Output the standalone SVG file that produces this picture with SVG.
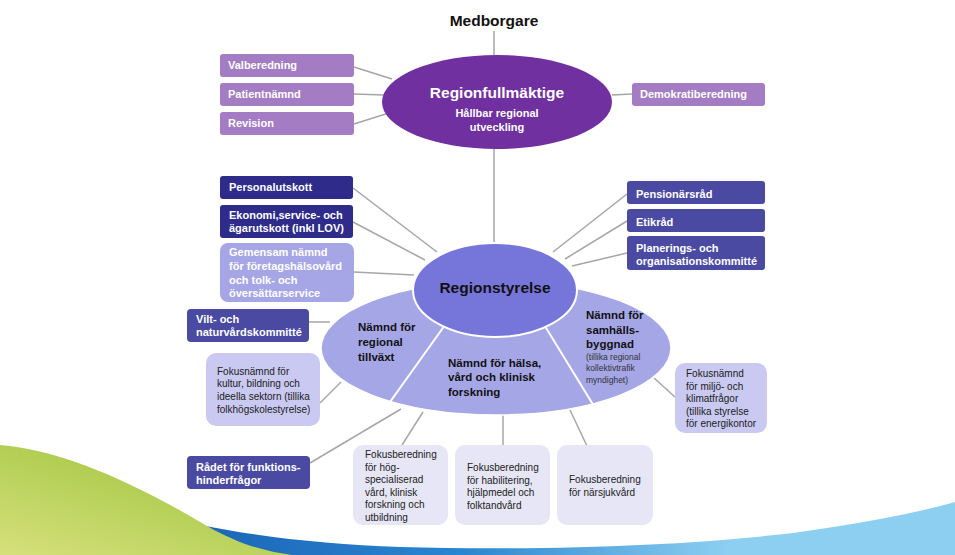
<svg xmlns="http://www.w3.org/2000/svg" width="955" height="555" viewBox="0 0 955 555">
<defs>
<style>
text{font-family:"Liberation Sans",Arial,sans-serif}
.wb{fill:#fff;font-weight:bold;font-size:11px}
.bk{fill:#111;font-weight:bold;font-size:11.5px}
.sm{fill:#222;font-size:10px}
.tiny{fill:#333;font-size:8.5px}
.con{stroke:#a6a6a6;stroke-width:1.5;fill:none}
.lp{fill:#a47cc4}
.dk{fill:#2e2b8b}
.md{fill:#4b4aa2}
.lv{fill:#c9c9f1}
.vl{fill:#e6e6f6}
</style>
<linearGradient id="gGreen" x1="0" y1="1" x2="0.8" y2="0">
<stop offset="0" stop-color="#d6e07c"/>
<stop offset="1" stop-color="#9cc33a"/>
</linearGradient>
<linearGradient id="gBlue" x1="0" y1="0" x2="1" y2="0">
<stop offset="0" stop-color="#1c66b8"/>
<stop offset="0.35" stop-color="#2a86d0"/>
<stop offset="0.7" stop-color="#8dcff1"/>
<stop offset="1" stop-color="#8dcff1"/>
</linearGradient>
<clipPath id="bigClip"><ellipse cx="496" cy="348" rx="175" ry="67"/></clipPath>
</defs>
<rect width="955" height="555" fill="#fff"/>
<g id="background">
<path d="M200,525 C260,537 330,545 400,547 C550,551 700,545 800,532 C870,522 920,512 955,502 L955,555 L200,555 Z" fill="url(#gBlue)"/>
<path d="M0,445 C60,450 130,480 207,526 C240,545 268,552 292,555 L0,555 Z" fill="url(#gGreen)"/>
</g>
<g id="connectors">
<path class="con" d="M494,31 L494,56"/>
<path class="con" d="M494,148 L494,244"/>
<path class="con" d="M354,67 L392,79"/>
<path class="con" d="M354,94 L384,95"/>
<path class="con" d="M354,124 L392,112"/>
<path class="con" d="M612,95 L632,94"/>
<path class="con" d="M353,188 L437,252"/>
<path class="con" d="M353,222 L425,260"/>
<path class="con" d="M354,272 L414,275"/>
<path class="con" d="M309,322 L330,322"/>
<path class="con" d="M627,194 L553,252"/>
<path class="con" d="M627,221 L565,259"/>
<path class="con" d="M627,253 L572,266"/>
<path class="con" d="M320,403 L341,382"/>
<path class="con" d="M310,463 L401,409"/>
<path class="con" d="M402,445 L423,412"/>
<path class="con" d="M503,445 L503,412"/>
<path class="con" d="M587,446 L570,410"/>
<path class="con" d="M675,397 L654,378"/>
</g>
<g id="medborgare">
<text x="494" y="26" text-anchor="middle" style="font-weight:bold;font-size:15.5px;fill:#111">Medborgare</text>
</g>
<g id="regionfullmaktige">
<ellipse cx="497" cy="102" rx="115" ry="47" fill="#7030a0"/>
<text x="497" y="98" text-anchor="middle" style="font-weight:bold;font-size:15.5px;fill:#fff">Regionfullmäktige</text>
<text x="497" y="117" text-anchor="middle" class="wb">Hållbar regional</text>
<text x="497" y="131" text-anchor="middle" class="wb">utveckling</text>
</g>
<g id="valberedning"><rect class="lp" x="220" y="54" width="134" height="23" rx="3"/><text class="wb" x="228" y="69">Valberedning</text></g>
<g id="patientnamnd"><rect class="lp" x="220" y="83" width="134" height="23" rx="3"/><text class="wb" x="228" y="98">Patientnämnd</text></g>
<g id="revision"><rect class="lp" x="220" y="112" width="134" height="23" rx="3"/><text class="wb" x="228" y="127">Revision</text></g>
<g id="demokratiberedning"><rect class="lp" x="632" y="83" width="133" height="23" rx="3"/><text class="wb" x="640" y="98">Demokratiberedning</text></g>
<g id="personalutskott"><rect class="dk" x="220" y="176" width="133" height="23" rx="3"/><text class="wb" x="229" y="191">Personalutskott</text></g>
<g id="ekonomi"><rect class="dk" x="220" y="205" width="133" height="33" rx="3"/><text class="wb" x="229" y="219">Ekonomi,service- och</text><text class="wb" x="229" y="232">ägarutskott (inkl LOV)</text></g>
<g id="gemensam"><rect x="220" y="243" width="134" height="59" rx="8" fill="#a6a6e6"/><text class="wb" x="229" y="256">Gemensam nämnd</text><text class="wb" x="229" y="270">för företagshälsovård</text><text class="wb" x="229" y="284">och tolk- och</text><text class="wb" x="229" y="297">översättarservice</text></g>
<g id="vilt"><rect class="md" x="187" y="309" width="122" height="33" rx="4"/><text class="wb" x="196" y="323">Vilt- och</text><text class="wb" x="196" y="336">naturvårdskommitté</text></g>
<g id="pensionarsrad"><rect class="md" x="627" y="181" width="138" height="23" rx="3"/><text class="wb" x="636" y="198">Pensionärsråd</text></g>
<g id="etikrad"><rect class="md" x="627" y="209" width="138" height="23" rx="3"/><text class="wb" x="636" y="226">Etikråd</text></g>
<g id="planerings"><rect class="md" x="627" y="236" width="138" height="34" rx="3"/><text class="wb" x="636" y="252">Planerings- och</text><text class="wb" x="636" y="265">organisationskommitté</text></g>
<g id="namnder">
<ellipse cx="496" cy="348" rx="175" ry="67" fill="#a5a6e6" stroke="#fff" stroke-width="1.5"/>
<g clip-path="url(#bigClip)" stroke="#fff" stroke-width="2">
<line x1="450" y1="318" x2="380" y2="416"/>
<line x1="540" y1="318" x2="600" y2="416"/>
</g>
<text class="bk" x="358" y="331">Nämnd för</text>
<text class="bk" x="358" y="346">regional</text>
<text class="bk" x="358" y="361">tillväxt</text>
<text class="bk" x="448" y="367">Nämnd för hälsa,</text>
<text class="bk" x="448" y="381">vård och klinisk</text>
<text class="bk" x="448" y="396">forskning</text>
<text class="bk" x="586" y="319">Nämnd för</text>
<text class="bk" x="586" y="334">samhälls-</text>
<text class="bk" x="586" y="348">byggnad</text>
<text class="tiny" x="586" y="360">(tillika regional</text>
<text class="tiny" x="586" y="371">kollektivtrafik</text>
<text class="tiny" x="586" y="383">myndighet)</text>
</g>
<g id="regionstyrelse">
<ellipse cx="495" cy="290" rx="82" ry="47" fill="#7676da" stroke="#fff" stroke-width="2"/>
<text x="495" y="293" text-anchor="middle" style="font-weight:bold;font-size:15.5px;fill:#111">Regionstyrelse</text>
</g>
<g id="kultur"><rect class="lv" x="206" y="353" width="114" height="73" rx="10"/><text class="sm" x="217" y="375">Fokusnämnd  för</text><text class="sm" x="217" y="387">kultur, bildning och</text><text class="sm" x="217" y="400">ideella sektorn (tillika</text><text class="sm" x="217" y="413">folkhögskolestyrelse)</text></g>
<g id="radet"><rect class="md" x="187" y="456" width="123" height="33" rx="4"/><text class="wb" x="196" y="471">Rådet för funktions-</text><text class="wb" x="196" y="484">hinderfrågor</text></g>
<g id="hog"><rect class="vl" x="353" y="445" width="95" height="80" rx="10"/><text class="sm" x="365" y="458">Fokusberedning</text><text class="sm" x="365" y="471">för hög-</text><text class="sm" x="365" y="483">specialiserad</text><text class="sm" x="365" y="496">vård, klinisk</text><text class="sm" x="365" y="508">forskning och</text><text class="sm" x="365" y="521">utbildning</text></g>
<g id="habilitering"><rect class="vl" x="455" y="445" width="95" height="80" rx="10"/><text class="sm" x="467" y="471">Fokusberedning</text><text class="sm" x="467" y="484">för habilitering,</text><text class="sm" x="467" y="496">hjälpmedel och</text><text class="sm" x="467" y="509">folktandvård</text></g>
<g id="narsjukvard"><rect class="vl" x="557" y="445" width="96" height="80" rx="10"/><text class="sm" x="569" y="483">Fokusberedning</text><text class="sm" x="569" y="496">för närsjukvård</text></g>
<g id="miljo"><rect class="lv" x="675" y="363" width="92" height="70" rx="10"/><text class="sm" x="686" y="377">Fokusnämnd</text><text class="sm" x="686" y="390">för miljö- och</text><text class="sm" x="686" y="402">klimatfrågor</text><text class="sm" x="686" y="415">(tillika styrelse</text><text class="sm" x="686" y="427">för energikontor</text></g>
</svg>
